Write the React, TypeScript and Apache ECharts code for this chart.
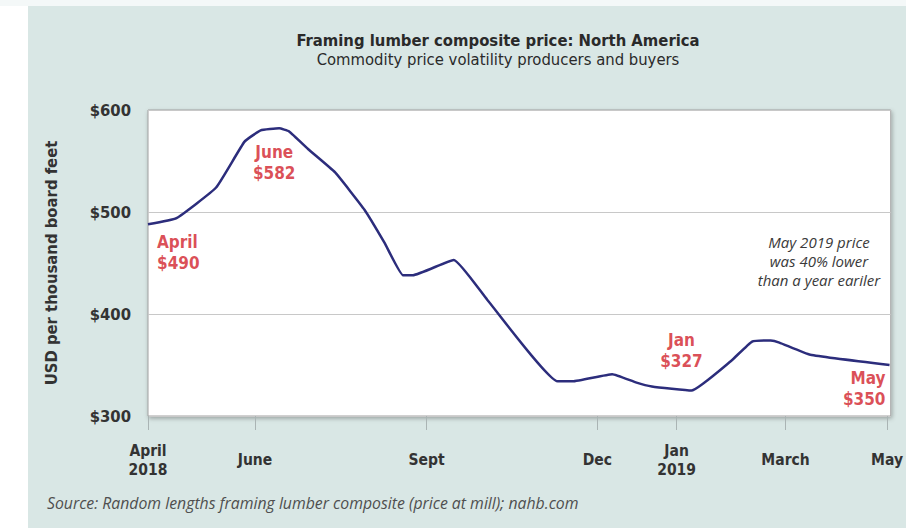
import React, { useEffect, useRef } from "react";
import * as echarts from "echarts";

// x values are positions along the drawn time axis, in weeks from April 2018
const weeks = [0, 2.3, 5.5, 7.8, 9.1, 10.6, 11.4, 13.0, 15.1, 17.5, 19.1, 20.6, 21.4, 24.7, 27.4, 33.1, 34.3, 37.5, 39.4, 40.7, 43.9, 47.1, 48.8, 50.3, 51.0, 53.5, 59.9];
const prices = [488, 494, 524, 569, 580, 582, 579, 561, 539, 502, 470, 438, 438, 453, 414, 334, 334, 341, 333, 329, 325, 354, 373, 374, 372, 360, 350];

const tickWeeks = [0, 8.64, 22.5, 36.3, 42.7, 51.5, 59.7];
const tickLabels = ["April\n2018", "June", "Sept", "Dec", "Jan\n2019", "March", "May"];

const yTicks = [300, 400, 500, 600];

const callouts = [
  { week: 0, price: 488, text: "April\n$490", offset: [9, 28], align: "left" },
  { week: 10.6, price: 582, text: "June\n$582", offset: [-5, 34], align: "center" },
  { week: 43.9, price: 325, text: "Jan\n$327", offset: [-10, -40], align: "center" },
  { week: 59.9, price: 350, text: "May\n$350", offset: [-4, 23], align: "right" },
];

const TITLE = "Framing lumber composite price: North America";
const SUBTITLE = "Commodity price volatility producers and buyers";
const NOTE_LINES = ["May 2019 price", "was 40% lower", "than a year eariler"];
const SOURCE = "Source: Random lengths framing lumber composite (price at mill); nahb.com";

const COND = "'Liberation Sans Narrow','DejaVu Sans Condensed','Roboto',sans-serif";
const SANS = "'Open Sans','Noto Sans',sans-serif";

export default function App() {
  const ref = useRef<HTMLDivElement>(null);
  useEffect(() => {
    if (!ref.current) return;
    const chart = echarts.init(ref.current, null, { renderer: "svg" });
    chart.setOption({
      animation: false,
      backgroundColor: "#d9e7e5",
      title: {
        text: TITLE,
        subtext: SUBTITLE,
        left: 493,
        top: 27,
        textAlign: "center",
        itemGap: 2,
        textStyle: { fontFamily: COND, fontWeight: "bold", fontSize: 16.5, color: "#2a2a2a" },
        subtextStyle: { fontFamily: COND, fontWeight: "normal", fontSize: 16.5, color: "#2a2a2a" },
      },
      graphic: [
        { type: "rect", left: 0, top: 0, shape: { width: 28, height: 528 }, style: { fill: "#ffffff" }, silent: true },
        { type: "rect", left: 0, top: 0, shape: { width: 906, height: 6 }, style: { fill: "#f4f8f8" }, silent: true },
        {
          type: "text",
          left: 47,
          top: 495,
          style: { text: SOURCE, fontFamily: SANS, fontStyle: "italic", fontSize: 15.8, fill: "#4f4f4f" },
        },
        ...NOTE_LINES.map((t, i) => ({
          type: "text",
          x: 819,
          y: 242 + i * 19,
          style: {
            text: t,
            fontFamily: SANS,
            fontStyle: "italic",
            fontSize: 15,
            fill: "#3a3a3a",
            textAlign: "center",
            textVerticalAlign: "middle",
          },
        })),
      ],
      grid: {
        left: 148,
        top: 110,
        right: 8,
        bottom: 112,
        show: true,
        backgroundColor: "#ffffff",
        borderColor: "#a0a0a0",
        borderWidth: 1,
        shadowColor: "rgba(0,0,0,0.3)",
        shadowBlur: 4,
        shadowOffsetX: 1,
        shadowOffsetY: 2,
      },
      xAxis: {
        type: "value",
        min: 0,
        max: 60,
        axisLine: { show: false },
        splitLine: { show: false },
        axisTick: {
          show: true,
          customValues: tickWeeks,
          length: 14,
          lineStyle: { color: "#aab4b4", width: 1 },
        },
        axisLabel: {
          show: true,
          customValues: tickWeeks,
          margin: 44,
          verticalAlign: "middle",
          lineHeight: 19,
          fontFamily: COND,
          fontWeight: "bold",
          fontSize: 15.5,
          color: "#333333",
          formatter: (v: number) => {
            let best = 0;
            tickWeeks.forEach((t, i) => {
              if (Math.abs(t - v) < Math.abs(tickWeeks[best] - v)) best = i;
            });
            return tickLabels[best];
          },
        },
      },
      yAxis: {
        type: "value",
        min: yTicks[0],
        max: yTicks[yTicks.length - 1],
        interval: 100,
        name: "USD per thousand board feet",
        nameLocation: "middle",
        nameGap: 88,
        nameTextStyle: { fontFamily: COND, fontWeight: "bold", fontSize: 16.5, color: "#333333" },
        axisLine: { show: false },
        axisTick: { show: false },
        axisLabel: {
          margin: 17,
          fontFamily: COND,
          fontWeight: "bold",
          fontSize: 16.5,
          color: "#333333",
          formatter: (v: number) => "$" + v,
        },
        splitLine: { lineStyle: { color: "#c8c8c8", width: 1 } },
      },
      series: [
        {
          type: "line",
          data: weeks.map((w, i) => [w, prices[i]]),
          showSymbol: false,
          smooth: 0.12,
          lineStyle: { color: "#2c2d7c", width: 2.5 },
          z: 3,
        },
        {
          type: "scatter",
          data: callouts.map((c) => ({
            value: [c.week, c.price],
            label: {
              show: true,
              position: "inside",
              formatter: c.text,
              offset: c.offset,
              align: c.align,
              verticalAlign: "middle",
            },
          })),
          symbolSize: 1,
          itemStyle: { color: "rgba(0,0,0,0)" },
          label: {
            fontFamily: COND,
            fontWeight: "bold",
            fontSize: 17,
            lineHeight: 21,
            color: "#d21f2b",
          },
          z: 4,
          silent: true,
        },
      ],
    });
    return () => chart.dispose();
  }, []);
  return (
    <div
      ref={ref}
      style={{ position: "fixed", left: 0, top: 0, width: 906, height: 528 }}
    />
  );
}
